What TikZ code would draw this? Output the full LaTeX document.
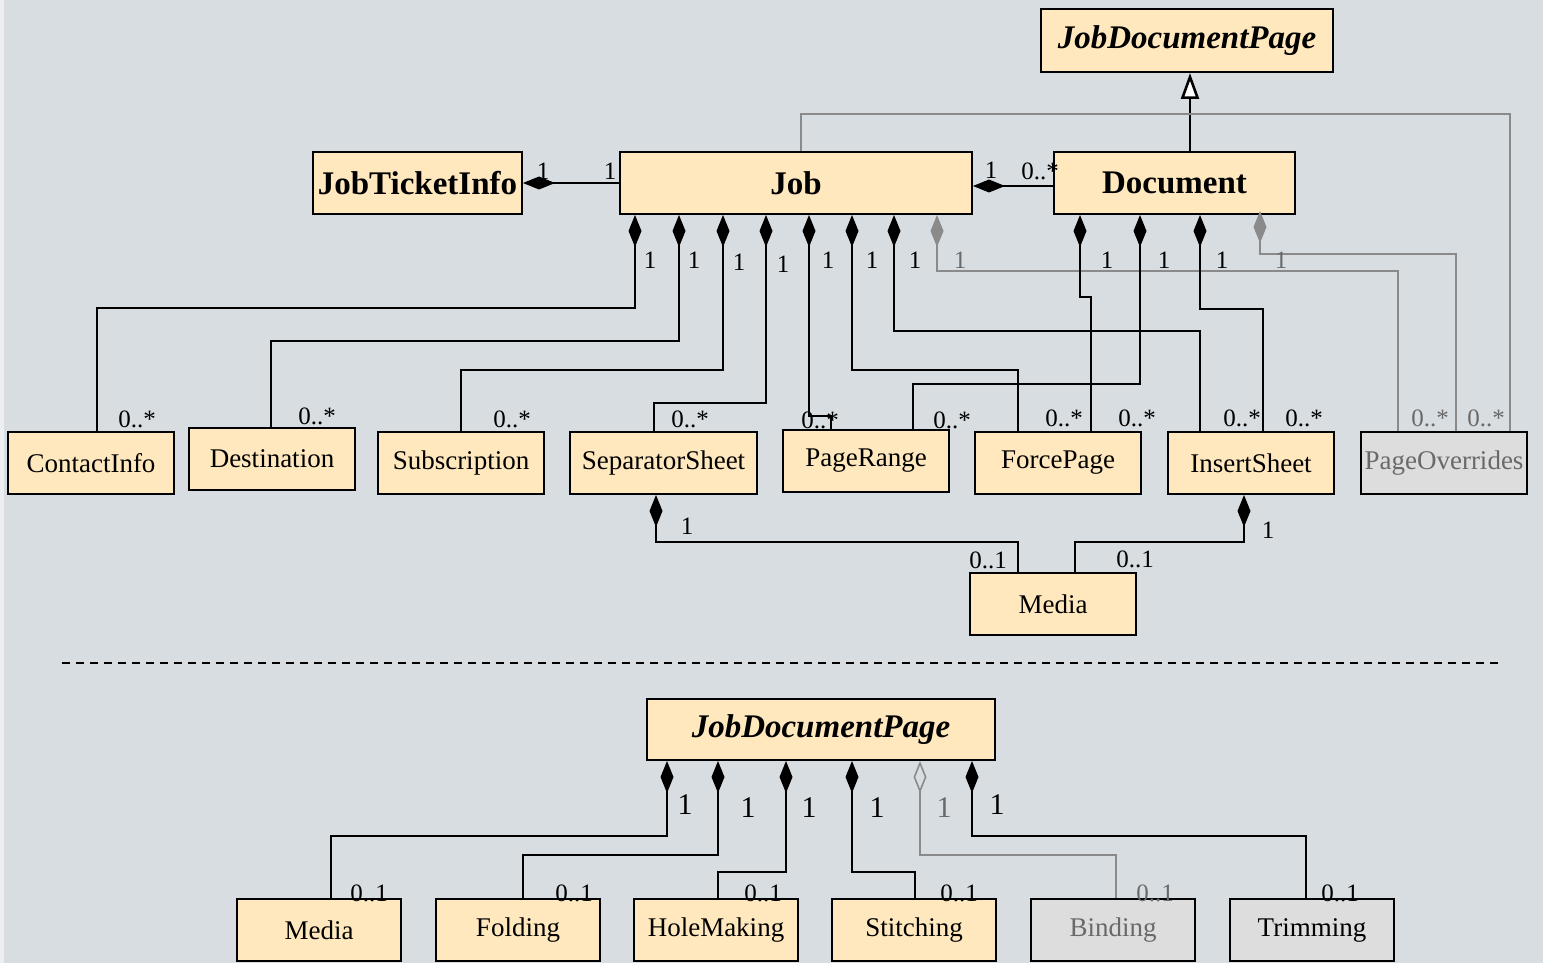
\documentclass[tikz,border=0pt]{standalone}
\usepackage{fontspec}
\setmainfont{Liberation Serif}
\usetikzlibrary{arrows.meta}
\definecolor{bgc}{RGB}{216,221,225}
\definecolor{stripc}{RGB}{236,238,241}
\definecolor{clsfill}{RGB}{255,232,190}
\definecolor{grfill}{RGB}{221,221,221}
\definecolor{lgrey}{RGB}{138,138,138}
\definecolor{tgrey}{RGB}{105,105,105}
\begin{document}
\begin{tikzpicture}[x=1pt,y=-1pt,
  sz/.style 2 args={minimum width=#1pt, minimum height=#2pt},
  cls/.style={draw=black, line width=2pt, fill=clsfill, inner sep=0pt, font=\fontsize{27}{30}\selectfont},
  gcls/.style={cls, fill=grfill},
  bcls/.style={cls, font=\fontsize{33}{36}\selectfont\bfseries},
  icls/.style={cls, font=\fontsize{33}{36}\selectfont\bfseries\itshape},
  mult/.style={inner sep=0pt, font=\fontsize{25}{27}\selectfont},
  gmult/.style={mult, text=tgrey},
  bmult/.style={inner sep=0pt, font=\fontsize{30}{32}\selectfont},
  gbmult/.style={bmult, text=tgrey},
  comp/.style={draw=black, line width=1.6pt, arrows={Diamond[length=32pt,width=13pt]-}},
  gcomp/.style={draw=lgrey, line width=1.6pt, arrows={Diamond[length=32pt,width=13pt]-}},
  aggr/.style={draw=lgrey, line width=1.6pt, arrows={Diamond[open,length=32pt,width=13pt]-}},
  assoc/.style={draw=lgrey, line width=1.6pt},
  gen/.style={draw=black, line width=2.6pt, arrows={-Triangle[length=26pt,width=18pt,fill=white]}},
  sepline/.style={draw=black, line width=1.4pt, dash pattern=on 8pt off 6pt},
]
\useasboundingbox (0,0) rectangle (1543,963);
\fill[bgc] (0,0) rectangle (1543,963);
\fill[stripc] (0,0) rectangle (4,963);

% ---------- top diagram: classes ----------
\node[icls, sz={292}{63}] (jdp) at (1187,40.5) {JobDocumentPage};
\node[bcls, sz={209}{62}] (jti) at (417.5,183) {JobTicketInfo};
\node[bcls, sz={352}{62}] (job) at (796,183) {Job};
\node[bcls, sz={241}{62}] (doc) at (1174.5,183) {Document};

\node[cls, sz={166}{62}] (contact) at (91,463) {ContactInfo};
\node[cls, sz={166}{62}] (dest) at (272,459) {Destination};
\node[cls, sz={166}{62}] (subs) at (461,463) {Subscription};
\node[cls, sz={187}{62}] (sep) at (663.5,463) {SeparatorSheet};
\node[cls, sz={166}{62}] (prange) at (866,461) {PageRange};
\node[cls, sz={166}{62}] (force) at (1058,463) {ForcePage};
\node[cls, sz={166}{62}] (insert) at (1251,463) {InsertSheet};
\node[gcls, sz={166}{62}, text=tgrey] (pov) at (1444,463) {PageOverrides};
\node[cls, sz={166}{62}] (media) at (1053,604) {Media};

% ---------- top diagram: connectors ----------
\draw[comp] (jti.east) -- (job.west);
\draw[comp] ([yshift=-3pt]job.east) -- ([yshift=-3pt]doc.west);
\draw[gen] ([xshift=137pt]doc.north west) -- ([xshift=150pt]jdp.south west);
\draw[assoc] ([xshift=182pt]job.north west) -- ++(0,-37) -| ([xshift=150pt]pov.north west);

\draw[comp] ([xshift=16pt]job.south west) -- ++(0,93) -| ([xshift=90pt]contact.north west);
\draw[comp] ([xshift=60pt]job.south west) -- ++(0,126) -| ([xshift=83pt]dest.north west);
\draw[comp] ([xshift=104pt]job.south west) -- ++(0,155) -| ([xshift=84pt]subs.north west);
\draw[comp] ([xshift=147pt]job.south west) -- ++(0,188) -| ([xshift=85pt]sep.north west);
\draw[comp] ([xshift=190pt]job.south west) -- ++(0,201) -| ([xshift=49pt]prange.north west);
\draw[comp] ([xshift=233pt]job.south west) -- ++(0,155) -| ([xshift=44pt]force.north west);
\draw[comp] ([xshift=275pt]job.south west) -- ++(0,116) -| ([xshift=33pt]insert.north west);
\draw[gcomp] ([xshift=318pt]job.south west) -- ++(0,56) -| ([xshift=38pt]pov.north west);

\draw[comp] ([xshift=27pt]doc.south west) -- ++(0,82) -| ([xshift=117pt]force.north west);
\draw[comp] ([xshift=87pt]doc.south west) -- ++(0,169) -| ([xshift=131pt]prange.north west);
\draw[comp] ([xshift=147pt]doc.south west) -- ++(0,94) -| ([xshift=96pt]insert.north west);
\draw[gcomp] ([xshift=207pt,yshift=4pt]doc.south west) -- ++(0,43) -| ([xshift=96pt]pov.north west);

\draw[comp] ([xshift=87pt]sep.south west) -- ++(0,47) -| ([xshift=49pt]media.north west);
\draw[comp] ([xshift=77pt]insert.south west) -- ++(0,47) -| ([xshift=106pt]media.north west);

% ---------- top diagram: multiplicities ----------
\node[mult] (t1) at (543,171) {1};
\node[mult] (t2) at (610,171) {1};
\node[mult] (t3) at (991,170) {1};
\node[mult] (t4) at (1040,171) {0..*};

\node[mult] (j1) at (650,260) {1};
\node[mult] (j2) at (694,260) {1};
\node[mult] (j3) at (739,262) {1};
\node[mult] (j4) at (783,264) {1};
\node[mult] (j5) at (828,260) {1};
\node[mult] (j6) at (872,260) {1};
\node[mult] (j7) at (915,260) {1};
\node[gmult] (j8) at (960,260) {1};
\node[mult] (d1) at (1107,260) {1};
\node[mult] (d2) at (1164,260) {1};
\node[mult] (d3) at (1222,260) {1};
\node[gmult] (d4) at (1281,260) {1};

\node[mult] (c1) at (137,419) {0..*};
\node[mult] (c2) at (317,416) {0..*};
\node[mult] (c3) at (512,419) {0..*};
\node[mult] (c4) at (690,419) {0..*};
\node[mult] (c5) at (820,420) {0..*};
\node[mult] (c6) at (952,420) {0..*};
\node[mult] (c7) at (1064,418) {0..*};
\node[mult] (c8) at (1137,418) {0..*};
\node[mult] (c9) at (1242,418) {0..*};
\node[mult] (c10) at (1304,418) {0..*};
\node[gmult] (c11) at (1430,418) {0..*};
\node[gmult] (c12) at (1486,418) {0..*};

\node[mult] (m1) at (687,526) {1};
\node[mult] (m2) at (1268,530) {1};
\node[mult] (m3) at (988,560) {0..1};
\node[mult] (m4) at (1135,559) {0..1};

% ---------- separator ----------
\coordinate (dl) at (62,663);
\coordinate (dr) at (1500,663);
\draw[sepline] (dl) -- (dr);

% ---------- bottom diagram ----------
\node[icls, sz={348}{61}] (jdp2) at (821,729.5) {JobDocumentPage};
\node[cls, sz={164}{62}] (bmedia) at (319,930) {Media};
\node[cls, sz={164}{62}] (fold) at (518,930) {Folding};
\node[cls, sz={164}{62}] (hole) at (716,930) {HoleMaking};
\node[cls, sz={164}{62}] (stitch) at (914,930) {Stitching};
\node[gcls, sz={164}{62}, text=tgrey] (bind) at (1113,930) {Binding};
\node[gcls, sz={164}{62}] (trim) at (1312,930) {Trimming};

\draw[comp] ([xshift=21pt]jdp2.south west) -- ++(0,75) -| ([xshift=95pt]bmedia.north west);
\draw[comp] ([xshift=72pt]jdp2.south west) -- ++(0,94) -| ([xshift=88pt]fold.north west);
\draw[comp] ([xshift=140pt]jdp2.south west) -- ++(0,111) -| ([xshift=85pt]hole.north west);
\draw[comp] ([xshift=206pt]jdp2.south west) -- ++(0,111) -| ([xshift=84pt]stitch.north west);
\draw[aggr] ([xshift=274pt]jdp2.south west) -- ++(0,94) -| ([xshift=86pt]bind.north west);
\draw[comp] ([xshift=326pt]jdp2.south west) -- ++(0,75) -| ([xshift=77pt]trim.north west);

\node[bmult] (b1) at (685,805) {1};
\node[bmult] (b2) at (748,808) {1};
\node[bmult] (b3) at (809,808) {1};
\node[bmult] (b4) at (877,808) {1};
\node[gbmult] (b5) at (944,808) {1};
\node[bmult] (b6) at (997,805) {1};

\node[mult] (e1) at (369,893) {0..1};
\node[mult] (e2) at (574,893) {0..1};
\node[mult] (e3) at (763,893) {0..1};
\node[mult] (e4) at (959,893) {0..1};
\node[gmult] (e5) at (1155,893) {0..1};
\node[mult] (e6) at (1340,893) {0..1};
\end{tikzpicture}
\end{document}
